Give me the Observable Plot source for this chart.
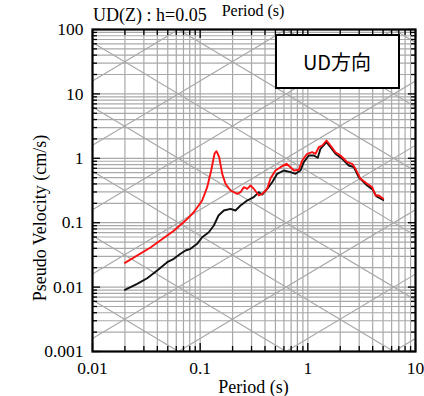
<!DOCTYPE html>
<html><head><meta charset="utf-8">
<script src="https://cdn.jsdelivr.net/npm/d3@7"></script>
<script src="https://cdn.jsdelivr.net/npm/@observablehq/plot@0.6"></script>
<style>
html,body{margin:0;padding:0;background:#fff;}
#chart svg{display:block;}
</style></head><body><div id="chart"></div>
<script>
// ---- data (period in s, pseudo velocity in cm/s) ----
const periodRed = [0.020,0.0346,0.0565,0.0731,0.0872,0.1044,0.1162,0.1266,0.1359,0.1418,0.1502,0.1602,0.1719,0.1913,0.2208,0.2369,0.2542,0.2734,0.2935,0.3148,0.3503,0.3768,0.4194,0.4498,0.5006,0.5573,0.6336,0.6902,0.7407,0.8244,0.8863,0.9865,1.098,1.178,1.264,1.359,1.490,1.623,1.806,2.011,2.320,2.582,2.772,3.084,3.558,3.961,4.250,4.561,5.01];
const velRed    = [0.0238,0.0412,0.0743,0.108,0.1455,0.221,0.356,0.647,1.175,1.289,1.04,0.574,0.402,0.316,0.281,0.2976,0.356,0.336,0.378,0.336,0.2645,0.281,0.336,0.4857,0.647,0.7275,0.8215,0.7275,0.647,0.663,0.924,1.175,1.244,1.175,1.487,1.58,1.89,1.58,1.244,1.105,0.870,0.8215,0.687,0.480,0.402,0.356,0.2645,0.2645,0.235];
const periodBlack = [0.020,0.0260,0.0322,0.0399,0.0494,0.0569,0.0657,0.0731,0.0813,0.0938,0.1044,0.1203,0.1339,0.148,0.1658,0.1913,0.2129,0.2369,0.2734,0.3148,0.3503,0.3768,0.4194,0.4667,0.5192,0.598,0.6902,0.768,0.855,0.917,1.021,1.136,1.237,1.311,1.490,1.623,1.806,2.085,2.401,2.673,2.974,3.558,3.987,4.342,5.01];
const velBlack    = [0.00908,0.01125,0.01374,0.0181,0.02435,0.0275,0.0329,0.0370,0.0393,0.047,0.0595,0.0712,0.0905,0.1293,0.1546,0.1643,0.1546,0.185,0.221,0.249,0.2976,0.274,0.336,0.4255,0.574,0.647,0.6085,0.574,0.647,0.870,1.105,1.105,1.018,1.404,1.778,1.487,1.175,0.982,0.773,0.7275,0.5087,0.378,0.328,0.255,0.225];

// ---- axes / tick labels ----
const xTickValues = [0.01, 0.1, 1, 10];
const xTickLabels = ["0.01", "0.1", "1", "10"];
const yTickValues = [0.001, 0.01, 0.1, 1, 10, 100];
const yTickLabels = ["0.001", "0.01", "0.1", "1", "10", "100"];
const minorMultipliers = [2, 3, 4, 5, 6, 7, 8, 9];
// tripartite guide lines: displacement (cm) and acceleration (cm/s^2) decades
const dispDecades = [1e-5, 1e-4, 1e-3, 1e-2, 1e-1, 1, 10, 100];
const accDecades = [1e-3, 1e-2, 1e-1, 1, 10, 100, 1e3, 1e4];

const titleText = "UD(Z) : h=0.05";
const topCutLabel = "Period (s)";
const xLabel = "Period (s)";
const yLabel = "Pseudo Velocity (cm/s)";
const legendLabel = "UD方向";

// ---- build helper tables ----
const xMinor = xTickValues.slice(0, -1).flatMap(d => minorMultipliers.map(m => m * d));
const yMinor = yTickValues.slice(0, -1).flatMap(d => minorMultipliers.map(m => m * d));
const xGrid = xTickValues.concat(xMinor);
const yGrid = yTickValues.concat(yMinor);
const tEnds = [xTickValues[0], xTickValues[xTickValues.length - 1]];
const diag = [];
dispDecades.forEach((D, i) => tEnds.forEach(T => diag.push({id: "d" + i, T, V: 2 * Math.PI * D / T})));
accDecades.forEach((A, i) => tEnds.forEach(T => diag.push({id: "a" + i, T, V: A * T / (2 * Math.PI)})));
const red = periodRed.map((T, i) => ({T, V: velRed[i]}));
const black = periodBlack.map((T, i) => ({T, V: velBlack[i]}));

const gridColor = "#a9a9a9";
const W = 424, H = 396;
const mL = 92, mR = 9, mT = 29, mB = 45;

const tickAxes = [];
for (const anchor of ["bottom", "top"]) {
  tickAxes.push(Plot.axisX(xTickValues, {anchor, tickSize: -8, tickFormat: () => "", strokeWidth: 1.3, label: null}));
  tickAxes.push(Plot.axisX(xMinor, {anchor, tickSize: -5, tickFormat: () => "", strokeWidth: 1.3, label: null}));
}
for (const anchor of ["left", "right"]) {
  tickAxes.push(Plot.axisY(yTickValues, {anchor, tickSize: -8, tickFormat: () => "", strokeWidth: 1.3, label: null}));
  tickAxes.push(Plot.axisY(yMinor, {anchor, tickSize: -5, tickFormat: () => "", strokeWidth: 1.3, label: null}));
}

const chart = Plot.plot({
  width: W, height: H,
  marginLeft: mL, marginRight: mR, marginTop: mT, marginBottom: mB,
  style: {fontFamily: "'Liberation Serif', 'Times New Roman', serif", fontSize: "17.5px", background: "#fff", color: "#000"},
  x: {type: "log", domain: [0.01, 10]},
  y: {type: "log", domain: [0.001, 100]},
  marks: [
    Plot.ruleX(xGrid, {stroke: gridColor, strokeWidth: 1.2}),
    Plot.ruleY(yGrid, {stroke: gridColor, strokeWidth: 1.2}),
    Plot.line(diag, {x: "T", y: "V", z: "id", stroke: gridColor, strokeWidth: 1.2, clip: true}),
    Plot.line(black, {x: "T", y: "V", stroke: "#111", strokeWidth: 1.9}),
    Plot.line(red, {x: "T", y: "V", stroke: "#ff1010", strokeWidth: 1.9}),
    Plot.frame({stroke: "#000", strokeWidth: 2.2}),
    ...tickAxes,
    Plot.axisX(xTickValues, {anchor: "bottom", tickSize: 0, tickPadding: 10, tickFormat: d => xTickLabels[xTickValues.indexOf(d)], label: null, fontSize: 17.5}),
    Plot.axisY(yTickValues, {anchor: "left", tickSize: 0, tickPadding: 9, tickFormat: d => yTickLabels[yTickValues.indexOf(d)], label: null, fontSize: 17.5})
  ]
});

const svg = d3.select(chart);
const serif = "'Liberation Serif', 'Times New Roman', serif";
svg.append("text").attr("x", 253).attr("y", 16).attr("text-anchor", "middle")
  .attr("font-family", serif).attr("font-size", 16).attr("fill", "#000").text(topCutLabel);
svg.append("text").attr("x", 93).attr("y", 21).attr("text-anchor", "start")
  .attr("font-family", serif).attr("font-size", 18).attr("fill", "#000").text(titleText);
svg.append("text").attr("x", 253.5).attr("y", 393).attr("text-anchor", "middle")
  .attr("font-family", serif).attr("font-size", 18).attr("fill", "#000").text(xLabel);
svg.append("text").attr("transform", "translate(46,218) rotate(-90)").attr("text-anchor", "middle")
  .attr("font-family", serif).attr("font-size", 18).attr("fill", "#000").text(yLabel);
// legend box
svg.append("rect").attr("x", 276).attr("y", 35).attr("width", 123).attr("height", 53)
  .attr("fill", "#fff").attr("stroke", "#000").attr("stroke-width", 2);
svg.append("text").attr("x", 337).attr("y", 70).attr("text-anchor", "middle")
  .attr("font-family", "'Noto Sans CJK JP', sans-serif").attr("font-size", 20).attr("fill", "#000").text(legendLabel);

document.getElementById("chart").appendChild(chart);
</script>
</body></html>
